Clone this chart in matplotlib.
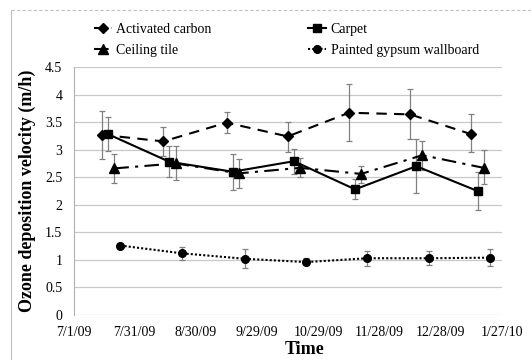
import datetime as dt
import matplotlib
matplotlib.use("Agg")
import matplotlib.pyplot as plt
from matplotlib.lines import Line2D

plt.rcParams["font.family"] = ["Liberation Serif", "DejaVu Serif"]


def d(s):
    return dt.datetime.strptime(s, "%m/%d/%y")


# activated carbon
ac_dates = ["7/15/09", "8/14/09", "9/14/09", "10/14/09", "11/13/09", "12/13/09", "1/12/10"]
ac_vals = [3.27, 3.15, 3.49, 3.24, 3.67, 3.64, 3.28]
ac_lo = [2.83, 2.88, 3.30, 2.96, 3.15, 3.19, 2.95]
ac_hi = [3.71, 3.42, 3.69, 3.50, 4.19, 4.10, 3.64]

# carpet
cp_dates = ["7/18/09", "8/17/09", "9/17/09", "10/17/09", "11/16/09", "12/16/09", "1/15/10"]
cp_vals = [3.28, 2.78, 2.60, 2.79, 2.28, 2.70, 2.25]
cp_lo = [2.97, 2.50, 2.27, 2.56, 2.11, 2.21, 1.91]
cp_hi = [3.60, 3.06, 2.93, 3.02, 2.46, 3.19, 2.59]

# ceiling tile
ct_dates = ["7/21/09", "8/20/09", "9/20/09", "10/20/09", "11/19/09", "12/19/09", "1/18/10"]
ct_vals = [2.66, 2.75, 2.57, 2.67, 2.56, 2.90, 2.67]
ct_lo = [2.39, 2.45, 2.31, 2.51, 2.40, 2.64, 2.37]
ct_hi = [2.93, 3.06, 2.83, 2.84, 2.71, 3.16, 2.99]

# painted gypsum wallboard
gw_dates = ["7/24/09", "8/23/09", "9/23/09", "10/23/09", "11/22/09", "12/22/09", "1/21/10"]
gw_vals = [1.26, 1.12, 1.02, 0.96, 1.03, 1.03, 1.04]
gw_lo = [1.21, 1.00, 0.86, 0.90, 0.89, 0.91, 0.89]
gw_hi = [1.31, 1.24, 1.19, 1.03, 1.17, 1.16, 1.19]

xtick_labels = ["7/1/09", "7/31/09", "8/30/09", "9/29/09", "10/29/09", "11/28/09", "12/28/09", "1/27/10"]

series = [
    ("Activated carbon", ac_dates, ac_vals, ac_lo, ac_hi, "D", 5.5, (0, (5, 3.5))),
    ("Carpet", cp_dates, cp_vals, cp_lo, cp_hi, "s", 5.5, "-"),
    ("Ceiling tile", ct_dates, ct_vals, ct_lo, ct_hi, "^", 6.5, (0, (7, 3, 1.5, 3))),
    ("Painted gypsum wallboard", gw_dates, gw_vals, gw_lo, gw_hi, "o", 5.5, (0, (1, 1))),
]

fig = plt.figure(figsize=(5.31, 3.6), dpi=100)
ax = fig.add_axes([73.5 / 531, 1 - 315 / 360, 428.5 / 531, 248 / 360])

handles = {}
for name, ds, vals, lo, hi, mk, ms, ls in series:
    x = [d(s) for s in ds]
    err = [[v - l for v, l in zip(vals, lo)], [h - v for v, h in zip(vals, hi)]]
    ax.errorbar(x, vals, yerr=err, fmt="none", ecolor="#808080", elinewidth=0.9,
                capsize=2.5, capthick=0.9, zorder=2)
    ln, = ax.plot(x, vals, color="black", linestyle=ls, linewidth=1.5,
                  marker=mk, markersize=ms, zorder=3, label=name)
    handles[name] = ln

ticks = [d(s) for s in xtick_labels]
ax.set_xlim(ticks[0], ticks[-1])
ax.set_xticks(ticks)
ax.set_xticklabels(xtick_labels, fontsize=10)
ax.set_ylim(0, 4.5)
ax.set_yticks([0, 0.5, 1, 1.5, 2, 2.5, 3, 3.5, 4, 4.5])
ax.set_yticklabels(["0", "0.5", "1", "1.5", "2", "2.5", "3", "3.5", "4", "4.5"], fontsize=10)
ax.tick_params(length=0, pad=8)
ax.grid(axis="y", color="#c8c8c8", linewidth=0.9)
ax.set_axisbelow(True)
for sp in ["top", "right", "bottom"]:
    ax.spines[sp].set_visible(False)
ax.spines["left"].set_color("#b0b0b0")

ax.set_ylabel("Ozone deposition velocity (m/h)", fontsize=13, fontweight="bold")
ax.yaxis.set_label_coords(-(73.5 - 27) / 428.5, 0.5)
ax.yaxis.label.set_verticalalignment("center")
ax.set_xlabel("Time", fontsize=13, fontweight="bold")
ax.xaxis.set_label_coords((305 - 73.5) / 428.5, -(350 - 315) / 248)
ax.xaxis.label.set_verticalalignment("center")

order = ["Activated carbon", "Ceiling tile", "Carpet", "Painted gypsum wallboard"]
fig.legend([handles[n] for n in order], order, ncol=2, loc="upper left",
           bbox_to_anchor=(88 / 531, 1 - 17 / 360), frameon=False, fontsize=10,
           handlelength=1.3, handletextpad=0.3, columnspacing=7.0, labelspacing=0.6,
           borderaxespad=0)

# outer chart border
fig.add_artist(Line2D([11 / 531, 1], [1 - 10 / 360, 1 - 10 / 360], transform=fig.transFigure,
                      color="#c0c0c0", linewidth=0.8, linestyle=(0, (3, 2))))
fig.add_artist(Line2D([11 / 531, 11 / 531], [0, 1 - 10 / 360], transform=fig.transFigure,
                      color="#c0c0c0", linewidth=0.8))

fig.savefig("out.png", dpi=100)
